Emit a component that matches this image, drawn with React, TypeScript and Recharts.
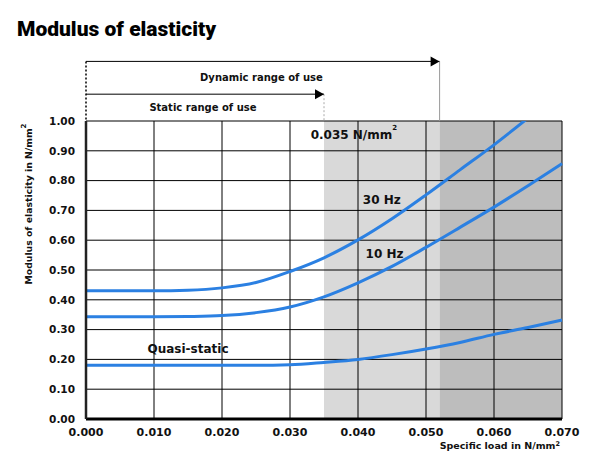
import React from 'react'
import {
  LineChart,
  Line,
  XAxis,
  YAxis,
  ReferenceArea,
  ReferenceLine,
  ReferenceDot
} from 'recharts'

// Specific load (N/mm²) at which the curves were read
const loads = [0, 0.005, 0.01, 0.015, 0.02, 0.025, 0.03, 0.035, 0.04, 0.045, 0.05, 0.055, 0.06, 0.065, 0.07]

// Modulus of elasticity (N/mm²) per curve
const hz30 = [0.43, 0.43, 0.43, 0.432, 0.44, 0.458, 0.495, 0.541, 0.601, 0.672, 0.752, 0.836, 0.92, 1.01, null]
const hz10 = [0.343, 0.343, 0.343, 0.344, 0.347, 0.357, 0.376, 0.41, 0.457, 0.512, 0.576, 0.643, 0.711, 0.783, 0.857]
const quasiStatic = [0.18, 0.18, 0.18, 0.18, 0.18, 0.18, 0.182, 0.19, 0.2, 0.216, 0.235, 0.257, 0.284, 0.307, 0.332]

const xTicks = [0, 0.01, 0.02, 0.03, 0.04, 0.05, 0.06, 0.07]
const yTicks = [0, 0.1, 0.2, 0.3, 0.4, 0.5, 0.6, 0.7, 0.8, 0.9, 1.0]

// range limits (N/mm²)
const staticLimit = 0.035
const dynamicLimit = 0.052

const data = loads.map((load, i) => ({
  load,
  hz30: hz30[i],
  hz10: hz10[i],
  quasi: quasiStatic[i]
}))

const FONT = '"DejaVu Sans", sans-serif'
const BLUE = '#2b80e2'

const arrowHead = (p: any) => (
  <path d={`M${p.cx - 9},${p.cy - 5}L${p.cx},${p.cy}L${p.cx - 9},${p.cy + 5}Z`} fill="#000" />
)

const textShape = (txt: string, size: number, sup?: boolean) => (p: any) => (
  <text
    x={p.cx}
    y={p.cy}
    textAnchor="middle"
    dominantBaseline="central"
    fontFamily={FONT}
    fontWeight="bold"
    fontSize={size}
    fill="#111"
  >
    {txt}
    {sup && <tspan dy={-7} fontSize={7}>2</tspan>}
  </text>
)

export default function App() {
  return (
    <div style={{ position: 'absolute', left: 0, top: 0, width: 590, height: 472, background: '#fff' }}>
      <div
        style={{
          position: 'absolute',
          left: 17,
          top: 17,
          fontFamily: 'Roboto, sans-serif',
          fontWeight: 900,
          fontSize: 21,
          color: '#000'
        }}
      >
        Modulus of elasticity
      </div>
      <LineChart
        width={590}
        height={472}
        data={data}
        margin={{ top: 121, right: 28, bottom: 0, left: 0 }}
      >
        <ReferenceArea x1={staticLimit} x2={dynamicLimit} y1={0} y2={1} fill="#d9d9d9" fillOpacity={1} stroke="none" />
        <ReferenceArea x1={dynamicLimit} x2={0.07} y1={0} y2={1} fill="#bdbdbd" fillOpacity={1} stroke="none" />

        {/* grid drawn over the shaded bands */}
        {xTicks.slice(1).map((t) => (
          <ReferenceLine key={`gx-${t}`} x={t} stroke="#000" strokeWidth={1} />
        ))}
        {yTicks.slice(1).map((t) => (
          <ReferenceLine key={`gy-${t}`} y={t} stroke="#000" strokeWidth={1} />
        ))}

        <XAxis
          type="number"
          dataKey="load"
          domain={[0, 0.07]}
          ticks={xTicks}
          tickFormatter={(v: number) => v.toFixed(3)}
          axisLine={{ stroke: '#000', strokeWidth: 3 }}
          tickLine={false}
          tickSize={0}
          tickMargin={9}
          height={53}
          tick={{ fontFamily: FONT, fontWeight: 'bold', fontSize: 11, fill: '#111' }}
          label={() => (
            <text x={560} y={449} textAnchor="end" fontFamily={FONT} fontWeight="bold" fontSize={9.5} fill="#111">
              Specific load in N/mm<tspan dy={-3} fontSize={6.5}>2</tspan>
            </text>
          )}
        />
        <YAxis
          type="number"
          domain={[0, 1]}
          allowDataOverflow
          ticks={yTicks}
          tickFormatter={(v: number) => v.toFixed(2)}
          axisLine={{ stroke: '#222', strokeWidth: 2.5 }}
          tickLine={false}
          tickSize={0}
          tickMargin={11}
          width={86}
          tick={{ fontFamily: FONT, fontWeight: 'bold', fontSize: 10.5, fill: '#111' }}
          label={() => (
            <text
              x={28}
              y={204}
              transform="rotate(-90 28 204)"
              textAnchor="middle"
              dominantBaseline="central"
              fontFamily={FONT}
              fontWeight="bold"
              fontSize={9.3}
              fill="#111"
            >
              Modulus of elasticity in N/mm<tspan dy={-4} fontSize={7}>2</tspan>
            </text>
          )}
        />

        {/* range of use arrows above the plot */}
        <ReferenceLine segment={[{ x: 0, y: 1.2 }, { x: 0, y: 1.0 }]} stroke="#000" strokeWidth={1.5} strokeDasharray="2 2" ifOverflow="visible" />
        <ReferenceLine segment={[{ x: 0, y: 1.2 }, { x: dynamicLimit, y: 1.2 }]} stroke="#000" strokeWidth={1} ifOverflow="visible" />
        <ReferenceLine segment={[{ x: dynamicLimit, y: 1.2 }, { x: dynamicLimit, y: 1.0 }]} stroke="#999" strokeWidth={1} ifOverflow="visible" />
        <ReferenceLine segment={[{ x: 0, y: 1.09 }, { x: staticLimit, y: 1.09 }]} stroke="#000" strokeWidth={1} ifOverflow="visible" />
        <ReferenceLine segment={[{ x: staticLimit, y: 1.09 }, { x: staticLimit, y: 1.0 }]} stroke="#aaa" strokeWidth={1} strokeDasharray="2 2" ifOverflow="visible" />
        <ReferenceDot x={dynamicLimit} y={1.2} ifOverflow="visible" shape={arrowHead} />
        <ReferenceDot x={staticLimit} y={1.09} ifOverflow="visible" shape={arrowHead} />
        <ReferenceDot x={0.0258} y={1.146} ifOverflow="visible" shape={textShape('Dynamic range of use', 10)} />
        <ReferenceDot x={0.0172} y={1.045} ifOverflow="visible" shape={textShape('Static range of use', 10)} />

        <Line type="monotone" dataKey="hz30" stroke={BLUE} strokeWidth={3} dot={false} isAnimationActive={false} />
        <Line type="monotone" dataKey="hz10" stroke={BLUE} strokeWidth={3} dot={false} isAnimationActive={false} />
        <Line type="monotone" dataKey="quasi" stroke={BLUE} strokeWidth={3} dot={false} isAnimationActive={false} />

        {/* curve annotations */}
        <ReferenceDot x={0.0394} y={0.954} shape={textShape('0.035 N/mm', 12, true)} />
        <ReferenceDot x={0.0435} y={0.736} shape={textShape('30 Hz', 12)} />
        <ReferenceDot x={0.0439} y={0.555} shape={textShape('10 Hz', 12)} />
        <ReferenceDot x={0.015} y={0.236} shape={textShape('Quasi-static', 12)} />
      </LineChart>
    </div>
  )
}
